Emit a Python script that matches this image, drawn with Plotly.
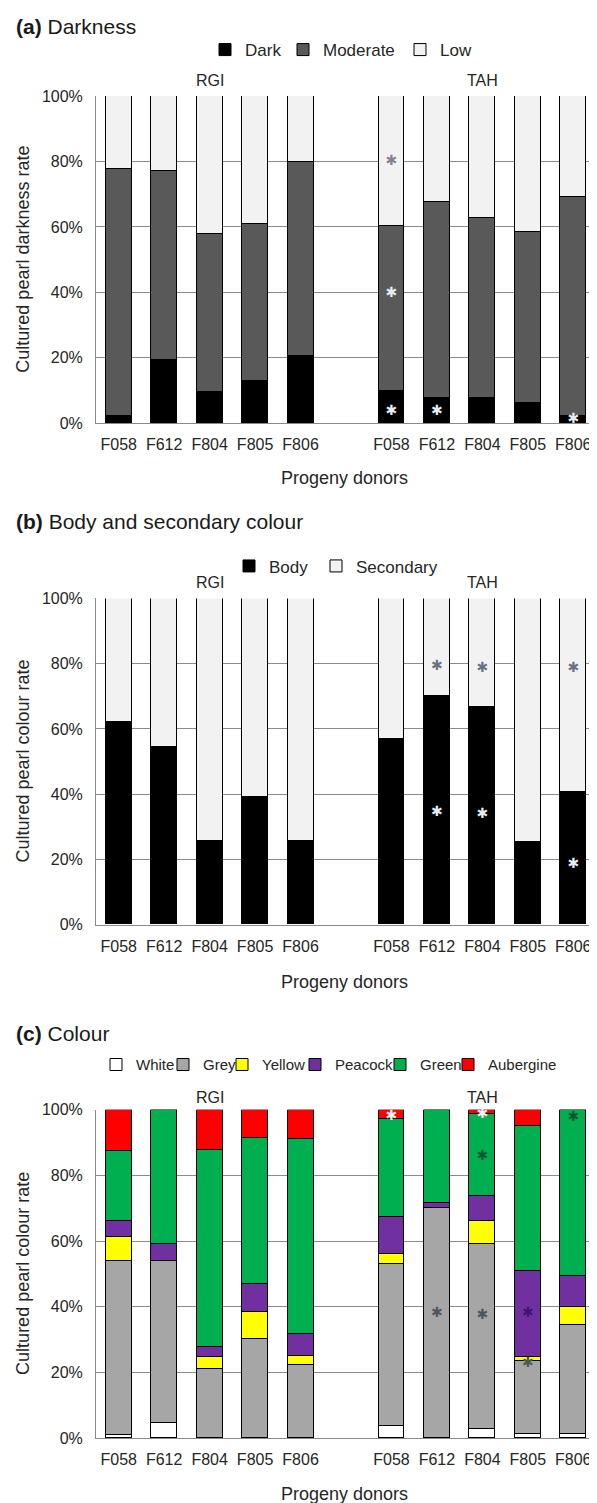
import plotly.graph_objects as go

donors = ["F058", "F612", "F804", "F805", "F806"]
groups = ["RGI", "TAH"]
y_ticks = [0, 20, 40, 60, 80, 100]
y_ticktext = ["0%", "20%", "40%", "60%", "80%", "100%"]

# (a) Darkness (% of pearls), RGI then TAH
dark_rgi = [2.3, 19.4, 9.5, 12.9, 20.4]
moderate_rgi = [75.4, 57.6, 48.3, 48.0, 59.5]
low_rgi = [22.3, 23.0, 42.2, 39.1, 20.1]
dark_tah = [9.8, 7.8, 7.8, 6.1, 2.3]
moderate_tah = [50.4, 59.9, 55.0, 52.3, 66.9]
low_tah = [39.8, 32.3, 37.2, 41.6, 30.8]

# (b) Body and secondary colour
body_rgi = [62.0, 54.3, 25.6, 38.9, 25.6]
secondary_rgi = [38.0, 45.7, 74.4, 61.1, 74.4]
body_tah = [56.9, 70.0, 66.5, 25.2, 40.5]
secondary_tah = [43.1, 30.0, 33.5, 74.8, 59.5]

# (c) Colour
white_rgi = [1.0, 4.6, 0.0, 0.0, 0.0]
grey_rgi = [53.0, 49.4, 21.1, 30.2, 22.2]
yellow_rgi = [7.3, 0.0, 3.6, 8.4, 3.0]
peacock_rgi = [4.9, 5.1, 3.1, 8.3, 6.5]
green_rgi = [21.2, 40.9, 60.0, 44.5, 59.4]
aubergine_rgi = [12.6, 0.0, 12.2, 8.6, 8.9]
white_tah = [3.6, 0.0, 2.7, 1.2, 1.2]
grey_tah = [49.4, 70.1, 56.4, 22.4, 33.2]
yellow_tah = [3.2, 0.0, 7.1, 1.2, 5.5]
peacock_tah = [11.3, 1.7, 7.6, 26.3, 9.4]
green_tah = [29.8, 28.2, 25.0, 43.9, 50.7]
aubergine_tah = [2.7, 0.0, 1.2, 5.0, 0.0]

# significance asterisks (all TAH): donor, y position (%), colour
a_star_donor = ["F058", "F058", "F058", "F612", "F806"]
a_star_y = [79.9, 39.6, 3.6, 3.6, 1.3]
a_star_col = ["#8a8090", "#e6ecf4", "#e6ecf4", "#e6ecf4", "#e6ecf4"]
b_star_donor = ["F612", "F612", "F804", "F804", "F806", "F806"]
b_star_y = [79.2, 34.3, 78.5, 33.7, 78.5, 18.5]
b_star_col = ["#6a7282", "#e6ecf4", "#6a7282", "#e6ecf4", "#6a7282", "#e6ecf4"]
c_star_donor = ["F058", "F612", "F612", "F804", "F804", "F804", "F805", "F805", "F806"]
c_star_y = [98.0, 37.9, -0.5, 98.6, 85.7, 37.4, 37.9, 22.6, 97.8]
c_star_col = ["#f2f2f2", "#4f5560", "#4f5560", "#f2f2f2", "#005a30", "#4f5560",
              "#3a1670", "#4f5560", "#005a30"]

# positions from category index (one empty slot between the groups)
x_rgi = list(range(len(donors)))
x_tah = [i + len(donors) + 1 for i in range(len(donors))]
x_all = x_rgi + x_tah
ticktext = donors + donors

FONT = "Liberation Sans, Arial, sans-serif"
TXT = "#262626"
GRID = "#8a8a8a"

# observed page placement: screen_x = OX + fig_x ; screen_y = SY * (TY + fig_y)
OX, TY, SY = 8, 16.2, 0.988
W, H = 597 - OX, 1505
PL, PR = 96, 596               # plot area, screen pixels
L = PL - OX
R = W - (PR - OX)
PW = PR - PL


def fy(screen_y):
    return screen_y / SY - TY


panels = {
    "a": dict(top=96, bottom=423, title=20, legend=50, group=80, xtitle=478),
    "b": dict(top=598, bottom=924, title=521, legend=566, group=582, xtitle=981),
    "c": dict(top=1109, bottom=1437, title=1033, legend=1064, group=1097, xtitle=1493),
}


def py(screen_y):
    return 1 - fy(screen_y) / H


def pxx(screen_x):
    return (screen_x - PL) / PW


fig = go.Figure()

series = {
    "a": [("Dark", dark_rgi + dark_tah, "#000000", 33),
          ("Moderate", moderate_rgi + moderate_tah, "#595959", 72),
          ("Low", low_rgi + low_tah, "#f2f2f2", 32)],
    "b": [("Body", body_rgi + body_tah, "#000000", 42),
          ("Secondary", secondary_rgi + secondary_tah, "#f2f2f2", 79)],
    "c": [("White", white_rgi + white_tah, "#ffffff", 22),
          ("Grey", grey_rgi + grey_tah, "#a6a6a6", 14),
          ("Yellow", yellow_rgi + yellow_tah, "#ffff00", 28),
          ("Peacock", peacock_rgi + peacock_tah, "#7030a0", 40),
          ("Green", green_rgi + green_tah, "#00b050", 23),
          ("Aubergine", aubergine_rgi + aubergine_tah, "#ff0000", 69)],
}
legend_font = {"a": 17, "b": 17, "c": 15}
legend_start = {"a": 205, "b": 229, "c": 96}
stars = {
    "a": (a_star_donor, a_star_y, a_star_col),
    "b": (b_star_donor, b_star_y, b_star_col),
    "c": (c_star_donor, c_star_y, c_star_col),
}
ytitles = {"a": "Cultured pearl darkness rate", "b": "Cultured pearl colour rate",
           "c": "Cultured pearl colour rate"}
titles = {"a": "<b>(a)</b> Darkness", "b": "<b>(b)</b> Body and secondary colour",
          "c": "<b>(c)</b> Colour"}

annotations = []
for k, (key, g) in enumerate(panels.items()):
    sfx = "" if k == 0 else str(k + 1)
    xa, ya = "x" + sfx, "y" + sfx
    leg = "legend" if k == 0 else "legend" + str(k + 1)
    for name, vals, col, lw in series[key]:
        fig.add_trace(go.Bar(
            x=x_all, y=vals, name=name,
            marker=dict(color=col, line=dict(color="#000000", width=1)),
            width=0.57, xaxis=xa, yaxis=ya, legend=leg, legendwidth=lw,
            hoverinfo="name+y"))
    sd, sy, sc = stars[key]
    fig.add_trace(go.Scatter(
        x=[x_tah[donors.index(d)] for d in sd], y=sy, mode="text", text=["✱"] * len(sy),
        textfont=dict(color=sc, size=14, family="DejaVu Sans"), textposition="middle center",
        xaxis=xa, yaxis=ya, showlegend=False, cliponaxis=False, hoverinfo="skip"))

    dom = [py(g["bottom"]), py(g["top"])]
    fig.update_layout(**{
        "xaxis" + sfx: dict(domain=[0, 1], range=[-0.5, len(x_all) + 0.5], anchor=ya,
                            tickmode="array", tickvals=x_all, ticktext=ticktext,
                            showgrid=False, zeroline=False, ticklabeloverflow="allow",
                            showline=True, linecolor=GRID, linewidth=1, ticks="",
                            tickfont=dict(size=16, color=TXT, family=FONT),
                            ticklabelstandoff=7, fixedrange=True),
        "yaxis" + sfx: dict(domain=dom, range=[0, 100], anchor=xa, tickmode="array",
                            tickvals=y_ticks, ticktext=y_ticktext,
                            showgrid=True, gridcolor=GRID, gridwidth=1,
                            zeroline=False, showline=True, linecolor=GRID, linewidth=1, ticks="",
                            tickfont=dict(size=16, color=TXT, family=FONT),
                            ticklabelstandoff=9, fixedrange=True),
        leg: dict(orientation="h", x=pxx(legend_start[key]), xanchor="left",
                  y=py(g["legend"]), yanchor="middle",
                  font=dict(size=legend_font[key], color=TXT, family=FONT),
                  bgcolor="rgba(0,0,0,0)", itemwidth=30, traceorder="normal",
                  itemclick=False, itemdoubleclick=False),
    })
    annotations.append(dict(text=titles[key], x=pxx(14), y=min(py(g["title"]), 1 - 11 / H),
                            xref="paper", yref="paper", xanchor="left", yanchor="middle",
                            showarrow=False, font=dict(size=21, color="#1a1a1a", family=FONT)))
    for gname, xs in zip(groups, [x_rgi, x_tah]):
        annotations.append(dict(text=gname, x=sum(xs) / len(xs), y=py(g["group"]), xref=xa,
                                yref="paper", xanchor="center", yanchor="middle",
                                showarrow=False, font=dict(size=16, color=TXT, family=FONT)))
    annotations.append(dict(text="Progeny donors", x=pxx(344), y=py(g["xtitle"]), xref="paper",
                            yref="paper", xanchor="center", yanchor="middle", showarrow=False,
                            font=dict(size=18, color=TXT, family=FONT)))
    annotations.append(dict(text=ytitles[key], x=pxx(23), y=(dom[0] + dom[1]) / 2, xref="paper",
                            yref="paper", xanchor="center", yanchor="middle", textangle=-90,
                            showarrow=False, font=dict(size=18, color=TXT, family=FONT)))

fig.update_layout(
    width=W, height=H, margin=dict(l=L, r=R, t=0, b=0, pad=0),
    barmode="stack", bargap=0, paper_bgcolor="white", plot_bgcolor="white",
    annotations=annotations, font=dict(family=FONT, color=TXT),
)

fig.write_html("out.html")
